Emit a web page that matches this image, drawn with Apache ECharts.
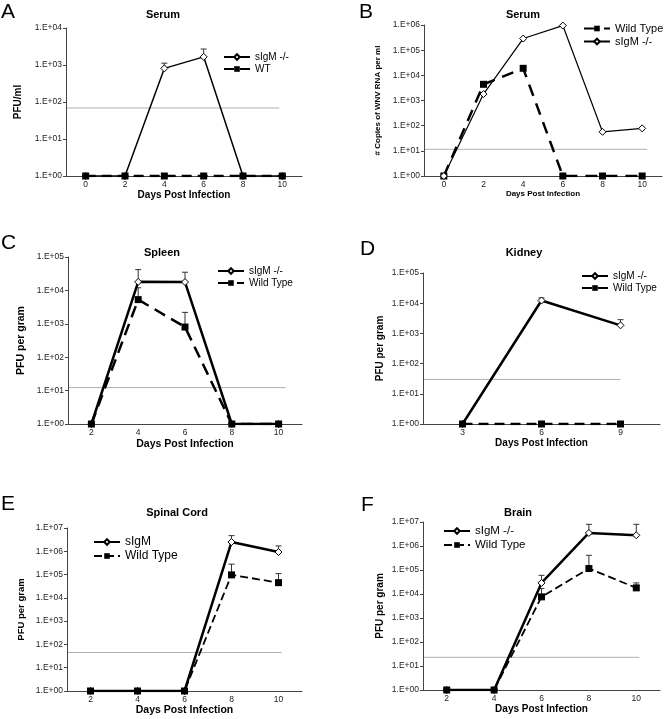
<!DOCTYPE html>
<html>
<head>
<meta charset="utf-8">
<script src="https://cdn.jsdelivr.net/npm/echarts@6/dist/echarts.min.js"></script>
<style>html,body{margin:0;padding:0;background:#fff}#c{width:666px;height:719px}</style>
</head>
<body>
<div id="c"></div>
<script>
// ---- Data ----
const daysA = ['0','2','4','6','8','10'];
const sigmA = [1,1,810,1660,1,1];
const sigmAErr = [null,null,1120,2700,null,null];
const wtA = [1,1,1,1,1,1];
const limitA = 69;

const daysB = ['0','2','4','6','8','10'];
const wtB = [1,4400,19000,1,1,1];
const sigmB = [1,1800,290000,950000,57,78];
const limitB = 11.5;

const daysC = ['2','4','6','8','10'];
const sigmC = [1,18000,17800,1,1];
const sigmCErr = [null,42000,35000,null,null];
const wtC = [1,5300,800,1,1];
const wtCErr = [null,12000,2200,null,null];
const limitC = 12.3;

const daysD = ['3','6','9'];
const sigmD = [1,12300,1850];
const sigmDErr = [null,15000,2850];
const wtD = [1,1,1];
const limitD = 30;

const daysE = ['2','4','6','8','10'];
const sigmE = [1,1,1,2500000,930000];
const sigmEErr = [null,null,null,4700000,1700000];
const wtE = [1,1,1,97000,45000];
const wtEErr = [null,null,null,280000,110000];
const limitE = 45;

const daysF = ['2','4','6','8','10'];
const sigmF = [1,1,29000,3500000,2800000];
const sigmFErr = [null,null,60000,8000000,8000000];
const wtF = [1,1,7600,115000,18000];
const wtFErr = [null,null,17000,410000,29000];
const limitF = 23;

// ---- Build ----
const FF = '"Liberation Sans", Arial, Helvetica, sans-serif';
const fmtY = v => '1.E+' + String(Math.round(Math.log10(v))).padStart(2,'0');

const grid = [], xAxis = [], yAxis = [], series = [], legend = [], title = [];

function errSeries(i, vals, errs) {
  const d = [];
  errs.forEach((h,k) => { if (h != null) d.push([k, vals[k], h]); });
  return {
    type: 'custom', xAxisIndex: i, yAxisIndex: i, data: d, silent: true, z: 1,
    encode: {x: 0, y: 1},
    renderItem(params, api) {
      const x = api.value(0);
      const p0 = api.coord([x, api.value(1)]);
      const p1 = api.coord([x, api.value(2)]);
      return {type:'group', children:[
        {type:'line', shape:{x1:p0[0],y1:p0[1],x2:p1[0],y2:p1[1]}, style:{stroke:'#333',lineWidth:1}},
        {type:'line', shape:{x1:p1[0]-3,y1:p1[1],x2:p1[0]+3,y2:p1[1]}, style:{stroke:'#333',lineWidth:1}}
      ]};
    }
  };
}
function limitSeries(i, lastIdx, limit, ext) {
  return {
    type: 'custom', xAxisIndex: i, yAxisIndex: i, data: [[lastIdx, limit]], silent: true, z: 0,
    encode: {x: 0, y: 1},
    renderItem(params, api) {
      const p = api.coord([api.value(0), api.value(1)]);
      return {type:'line', shape:{x1:params.coordSys.x, y1:p[1], x2:p[0]+ext, y2:p[1]},
              style:{stroke:'#b0b0b0', lineWidth:1}};
    }
  };
}

function panel(i, p) {
  grid.push({left: p.g[0], top: p.g[1], width: p.g[2], height: p.g[3]});
  xAxis.push({
    type: 'category', gridIndex: i, data: p.days, boundaryGap: true,
    name: 'Days Post Infection', nameLocation: 'middle', nameGap: p.xGap,
    nameTextStyle: {fontFamily: FF, fontWeight: 'bold', fontSize: p.xNameSize, color: '#000'},
    axisLine: {lineStyle: {color: '#444', width: 1}},
    axisTick: {length: 3, lineStyle: {color: '#444'}},
    axisLabel: {fontFamily: FF, fontSize: 8.5, color: '#222', margin: 4}
  });
  yAxis.push({
    type: 'log', logBase: 10, gridIndex: i, min: 1, max: p.ymax, interval: 1,
    name: p.yName, nameLocation: 'middle', nameGap: p.yGap, nameRotate: 90,
    nameTextStyle: {fontFamily: FF, fontWeight: 'bold', fontSize: p.yNameSize, color: '#000'},
    axisLine: {show: true, lineStyle: {color: '#444', width: 1}},
    axisTick: {show: true, length: 3, lineStyle: {color: '#444'}},
    splitLine: {show: false},
    minorTick: {show: false},
    axisLabel: {fontFamily: FF, fontSize: 8.5, color: '#222', margin: 4, formatter: fmtY}
  });
  series.push(limitSeries(i, p.days.length - 1, p.limit, p.limExt));
  p.lines.forEach(l => {
    const isS = l.kind === 's';
    series.push({
      name: p.key + '|' + l.label, type: 'line', xAxisIndex: i, yAxisIndex: i,
      data: l.data, z: l.z, animation: false,
      symbol: isS ? 'diamond' : 'rect', symbolSize: 7,
      itemStyle: isS ? {color: '#fff', borderColor: '#000', borderWidth: 1} : {color: '#000'},
      lineStyle: {color: '#000', width: l.w, type: l.dash || 'solid'}
    });
    if (l.err) series.push(errSeries(i, l.data, l.err));
  });
  legend.push({
    data: p.lines.map(l => p.key + '|' + l.label), orient: 'vertical',
    left: p.leg[0], top: p.leg[1], itemWidth: 26, itemHeight: 7, itemGap: 2,
    selectedMode: false, padding: 0,
    formatter: n => n.split('|')[1],
    textStyle: {fontFamily: FF, fontSize: p.legSize, color: '#000'}
  });
  title.push({text: p.key, left: p.letter[0], top: p.letter[1], padding: 0,
    textStyle: {fontFamily: FF, fontWeight: 'normal', fontSize: 21, color: '#000'}});
  title.push({text: p.title, left: p.t[0], top: p.t[1], textAlign: 'center', padding: 0,
    textStyle: {fontFamily: FF, fontWeight: 'bold', fontSize: 11, color: '#000'}});
}

panel(0, {key:'A', days: daysA, g:[66,28,236,148], ymax:1e4, yName:'PFU/ml', yGap:43, yNameSize:10,
  xGap:13, xNameSize:10, limit: limitA, limExt: -3, leg:[223,52], legSize:10, letter:[1,2], title:'Serum', t:[163,9],
  lines:[{kind:'s', label:'sIgM -/-', data: sigmA, err: sigmAErr, w:1.5, z:2},
         {kind:'w', label:'WT', data: wtA, w:2.5, dash:[10,6], z:3}]});
panel(1, {key:'B', days: daysB, g:[424,25,238,151], ymax:1e6, yName:'# Copies of WNV RNA per ml', yGap:42, yNameSize:8,
  xGap:12, xNameSize:8, limit: limitB, limExt: 5, leg:[583,23], legSize:11, letter:[359,2], title:'Serum', t:[523,9],
  lines:[{kind:'w', label:'Wild Type', data: wtB, w:2.5, dash:[12,8], z:2},
         {kind:'s', label:'sIgM -/-', data: sigmB, w:1.2, z:3}]});
panel(2, {key:'C', days: daysC, g:[68,257,234,167], ymax:1e5, yName:'PFU per gram', yGap:41, yNameSize:10.5,
  xGap:15, xNameSize:10.5, limit: limitC, limExt: 7, leg:[217,266], legSize:10, letter:[1,233], title:'Spleen', t:[162,247],
  lines:[{kind:'s', label:'sIgM -/-', data: sigmC, err: sigmCErr, w:2.5, z:2},
         {kind:'w', label:'Wild Type', data: wtC, err: wtCErr, w:2.5, dash:[12,7], z:3}]});
panel(3, {key:'D', days: daysD, g:[423,273,237,151], ymax:1e5, yName:'PFU per gram', yGap:38, yNameSize:10,
  xGap:13, xNameSize:10, limit: limitD, limExt: 0, leg:[581,271], legSize:10, letter:[360,239], title:'Kidney', t:[524,247],
  lines:[{kind:'s', label:'sIgM -/-', data: sigmD, err: sigmDErr, w:2.5, z:2},
         {kind:'w', label:'Wild Type', data: wtD, w:2.5, dash:[10,6], z:3}]});
panel(4, {key:'E', days: daysE, g:[67,528,235,163], ymax:1e7, yName:'PFU per gram', yGap:41, yNameSize:9.5,
  xGap:12, xNameSize:10.5, limit: limitE, limExt: 3, leg:[93,536], legSize:12, letter:[1,494], title:'Spinal Cord', t:[177,507],
  lines:[{kind:'s', label:'sIgM', data: sigmE, err: sigmEErr, w:2.5, z:2},
         {kind:'w', label:'Wild Type', data: wtE, err: wtEErr, w:1.8, dash:[8,4], z:3}]});
panel(5, {key:'F', days: daysF, g:[423,522,237,168], ymax:1e7, yName:'PFU per gram', yGap:38, yNameSize:10,
  xGap:12, xNameSize:10, limit: limitF, limExt: 3, leg:[443,525], legSize:11.5, letter:[361,495], title:'Brain', t:[518,507],
  lines:[{kind:'s', label:'sIgM -/-', data: sigmF, err: sigmFErr, w:2.5, z:2},
         {kind:'w', label:'Wild Type', data: wtF, err: wtFErr, w:1.8, dash:[8,4], z:3}]});

const chart = echarts.init(document.getElementById('c'), null, {renderer: 'canvas'});
chart.setOption({animation: false, backgroundColor: '#fff', title, legend, grid, xAxis, yAxis, series});
</script>
</body>
</html>
